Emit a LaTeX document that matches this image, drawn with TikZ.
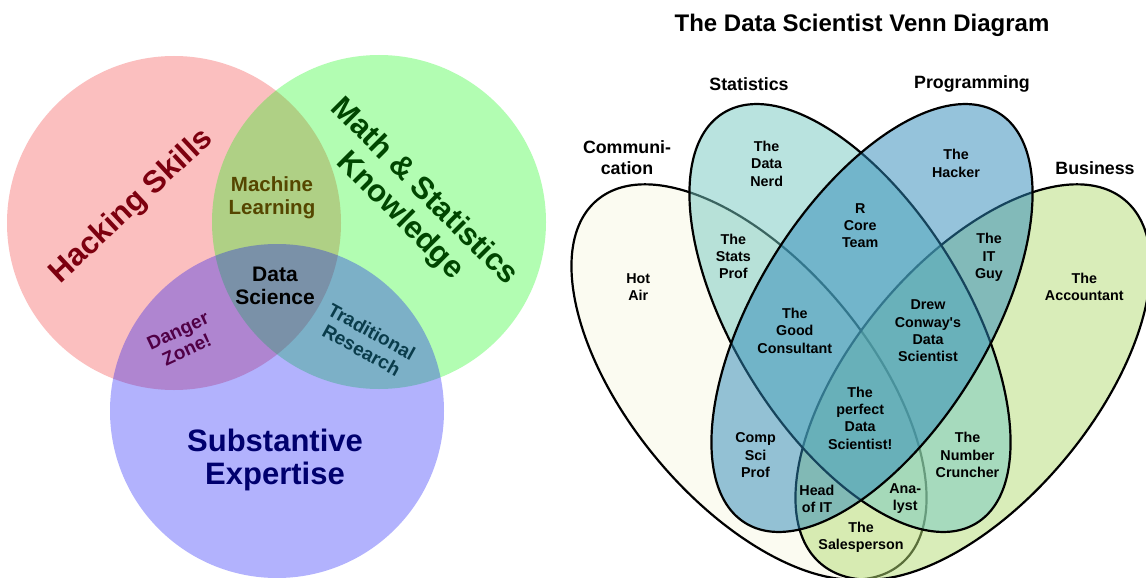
\documentclass[tikz,border=0pt]{standalone}
\usepackage{fontspec}
\setmainfont{Liberation Sans}[Ligatures=TeXOff]
\definecolor{hsred}{RGB}{240,0,0}
\definecolor{msgreen}{RGB}{0,250,0}
\definecolor{seblue}{RGB}{0,0,250}
\definecolor{hackcol}{RGB}{125,0,15}
\definecolor{mathcol}{RGB}{0,70,0}
\definecolor{mlcol}{RGB}{85,70,0}
\definecolor{dzcol}{RGB}{80,0,70}
\definecolor{trcol}{RGB}{10,60,75}
\definecolor{secol}{RGB}{0,0,110}
\definecolor{commcol}{RGB}{249,249,229}
\definecolor{buscol}{RGB}{181,221,117}
\definecolor{statcol}{RGB}{117,201,193}
\definecolor{progcol}{RGB}{45,137,185}
\begin{document}
\begin{tikzpicture}[x=1pt,y=-1pt,
  bigl/.style={font=\bfseries\fontsize{31}{34}\selectfont, align=center, inner sep=0pt},
  midl/.style={font=\bfseries\fontsize{19}{21}\selectfont, align=center, inner sep=0pt},
  lab/.style={font=\bfseries\fontsize{14.3}{17.3}\selectfont, align=center, inner sep=0pt},
  head/.style={font=\bfseries\fontsize{17.8}{21}\selectfont, align=center, inner sep=0pt},
  venn/.style={draw=black, line width=2.2pt, fill opacity=0.5, draw opacity=1}]
\useasboundingbox (0,0) rectangle (1146,578);
\fill[white] (0,0) rectangle (1146,578);
% ---- left diagram ----
\fill[hsred, fill opacity=0.25] (174,223) circle[radius=167];
\fill[msgreen, fill opacity=0.3] (379,222) circle[radius=167];
\fill[seblue, fill opacity=0.3] (277,411) circle[radius=167];
\node[bigl, rotate=43, text=hackcol] (hack) at (131.7,206.7) {Hacking Skills};
\node[bigl, rotate=-45, text=mathcol] (math) at (411.7,204.2) {Math \& Statistics\\Knowledge};
\node[font=\bfseries\fontsize{20.5}{22.7}\selectfont, align=center, inner sep=0pt, text=mlcol] (ml) at (272,198) {Machine\\Learning};
\node[font=\bfseries\fontsize{21}{22.3}\selectfont, align=center, inner sep=0pt] (ds) at (275,286) {Data\\Science};
\node[midl, rotate=25, text=dzcol] (dz) at (182.3,340.3) {Danger\\Zone!};
\node[midl, rotate=-29, text=trcol] (tr) at (366.7,340.8) {Traditional\\Research};
\node[font=\bfseries\fontsize{31}{32.7}\selectfont, align=center, inner sep=0pt, text=secol] (se) at (275,460.3) {Substantive\\Expertise};
% ---- right diagram ----
\draw[venn, fill=commcol, shift={(749,382)}, rotate=-50.2] (0,0) ellipse[x radius=237, y radius=120];
\draw[venn, fill=buscol, shift={(973,382)}, rotate=50.2] (0,0) ellipse[x radius=237, y radius=120];
\draw[venn, fill=statcol, shift={(850,318)}, rotate=-58.3] (0,0) ellipse[x radius=241, y radius=116];
\draw[venn, fill=progcol, shift={(872,318)}, rotate=58.3] (0,0) ellipse[x radius=241, y radius=116];
\node[font=\bfseries\fontsize{24}{28}\selectfont, anchor=base, inner sep=0pt] (title) at (862,31.7) {The Data Scientist Venn Diagram};
\node[head, anchor=base] (hstat) at (749,90) {Statistics};
\node[head, anchor=base] (hprog) at (972,88.3) {Programming};
\node[head, anchor=base] (hbus) at (1095,174) {Business};
\node[head] (hcomm) at (627,157.2) {Communi-\\cation};
\node[lab] (nerd) at (766.7,163.7) {The\\Data\\Nerd};
\node[lab] (sprof) at (733.3,256.4) {The\\Stats\\Prof};
\node[lab] (hot) at (638.3,287) {Hot\\Air};
\node[lab] (rcore) at (860.2,225.7) {R\\Core\\Team};
\node[lab] (hacker) at (956,163.3) {The\\Hacker};
\node[lab] (itguy) at (989,257.5) {The\\IT\\Guy};
\node[lab] (acct) at (1084.3,287.2) {The\\Accountant};
\node[lab] (good) at (794.8,330.7) {The\\Good\\Consultant};
\node[lab] (drew) at (928,331) {Drew\\Conway's\\Data\\Scientist};
\node[lab] (perf) at (860.2,418) {The\\perfect\\Data\\Scientist!};
\node[lab] (csp) at (755.5,455.2) {Comp\\Sci\\Prof};
\node[lab] (numc) at (967.5,455) {The\\Number\\Cruncher};
\node[lab] (headit) at (816.9,498.7) {Head\\of IT};
\node[lab] (analyst) at (905.2,498.7) {Ana-\\lyst};
\node[lab] (sales) at (861,537) {The\\Salesperson};
\end{tikzpicture}
\end{document}
